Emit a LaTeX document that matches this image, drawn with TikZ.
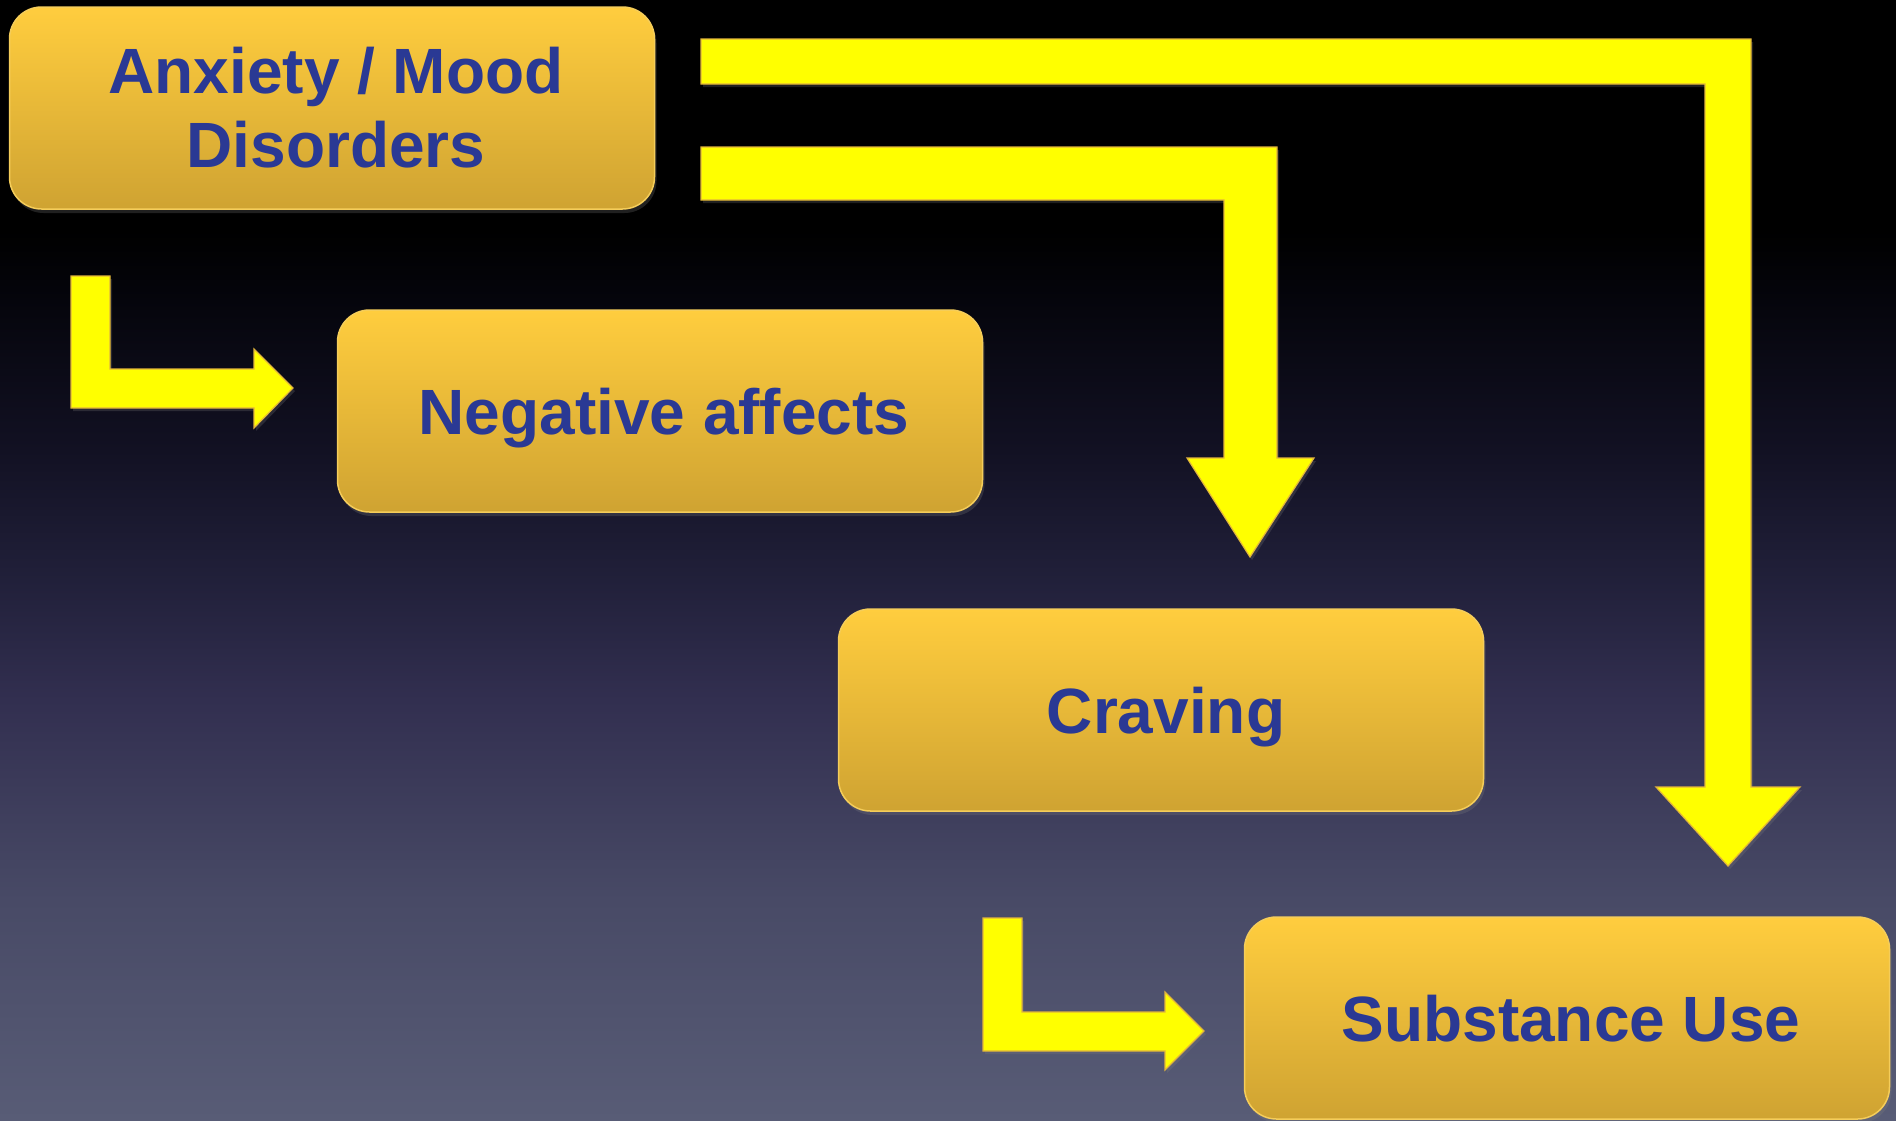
\documentclass[tikz,border=0pt]{standalone}
\usepackage{fontspec}
\setmainfont{Liberation Sans}
\usetikzlibrary{shadows}
\definecolor{bgbot}{RGB}{88,92,118}
\definecolor{bgca}{RGB}{72,74,102}
\definecolor{bgcb}{RGB}{50,47,80}
\definecolor{bgcc}{RGB}{33,32,58}
\definecolor{bgcd}{RGB}{18,17,35}
\definecolor{bgce}{RGB}{5,5,12}
\definecolor{boxtop}{RGB}{255,205,62}
\definecolor{boxbot}{RGB}{207,163,50}
\definecolor{boxline}{RGB}{245,205,90}
\definecolor{txtblue}{RGB}{42,57,148}
\definecolor{arrowyellow}{RGB}{255,255,0}
\definecolor{arrowline}{RGB}{225,180,60}
\pgfdeclareverticalshading{bgshade}{100bp}{color(0bp)=(bgbot); color(25bp)=(bgbot); color(34.8bp)=(bgca); color(43.75bp)=(bgcb); color(49.1bp)=(bgcc); color(54.9bp)=(bgcd); color(61.6bp)=(bgce); color(64.7bp)=(black); color(100bp)=(black)}
\tikzset{
  box/.style={rectangle, rounded corners=32pt, minimum width=645pt, minimum height=202pt,
    inner sep=0pt, draw=boxline, line width=1.5pt, top color=boxtop, bottom color=boxbot,
    text=txtblue, font=\bfseries\fontsize{64}{74}\selectfont, align=center,
    drop shadow={opacity=0.25, shadow xshift=2pt, shadow yshift=-4pt}},
  oneline/.style={text height=47pt, text depth=0pt},
  fatarrow/.style={fill=arrowyellow, draw=arrowline, line width=1.2pt, line join=miter,
    drop shadow={opacity=0.25, shadow xshift=2pt, shadow yshift=-3pt}}
}
\begin{document}
\begin{tikzpicture}[x=1pt, y=-1pt]
\useasboundingbox (0,0) rectangle (1896,1120);
\fill[shading=bgshade] (0,0) rectangle (1896,1120);

\node[box] (anx) at (332,108) {\hspace*{8pt}Anxiety / Mood\\\hspace*{8pt}Disorders};
\node[box, oneline] (neg) at (660,411) {\hspace*{8pt}Negative affects};
\node[box, oneline] (crav) at (1161,710) {\hspace*{10pt}Craving};
\node[box, oneline] (sub) at (1567,1018) {\hspace*{8pt}Substance Use};

% small L-arrow: anxiety -> negative affects
\draw[fatarrow] (71,276) -- (110,276) -- (110,369) -- (254,369) -- (254,349) -- (293,388)
  -- (254,428) -- (254,408) -- (71,408) -- cycle;
% small L-arrow: -> substance use
\draw[fatarrow] (983,918) -- (1022,918) -- (1022,1012) -- (1165,1012) -- (1165,992) -- (1204,1031)
  -- (1165,1070) -- (1165,1051) -- (983,1051) -- cycle;
% arrow to craving
\draw[fatarrow] (701,147) -- (1277,147) -- (1277,458) -- (1314,458) -- (1250,557) -- (1187,458)
  -- (1224,458) -- (1224,200) -- (701,200) -- cycle;
% arrow to substance use
\draw[fatarrow] (701,39) -- (1751,39) -- (1751,787) -- (1800,787) -- (1728,866) -- (1656,787)
  -- (1705,787) -- (1705,84) -- (701,84) -- cycle;
\end{tikzpicture}
\end{document}
